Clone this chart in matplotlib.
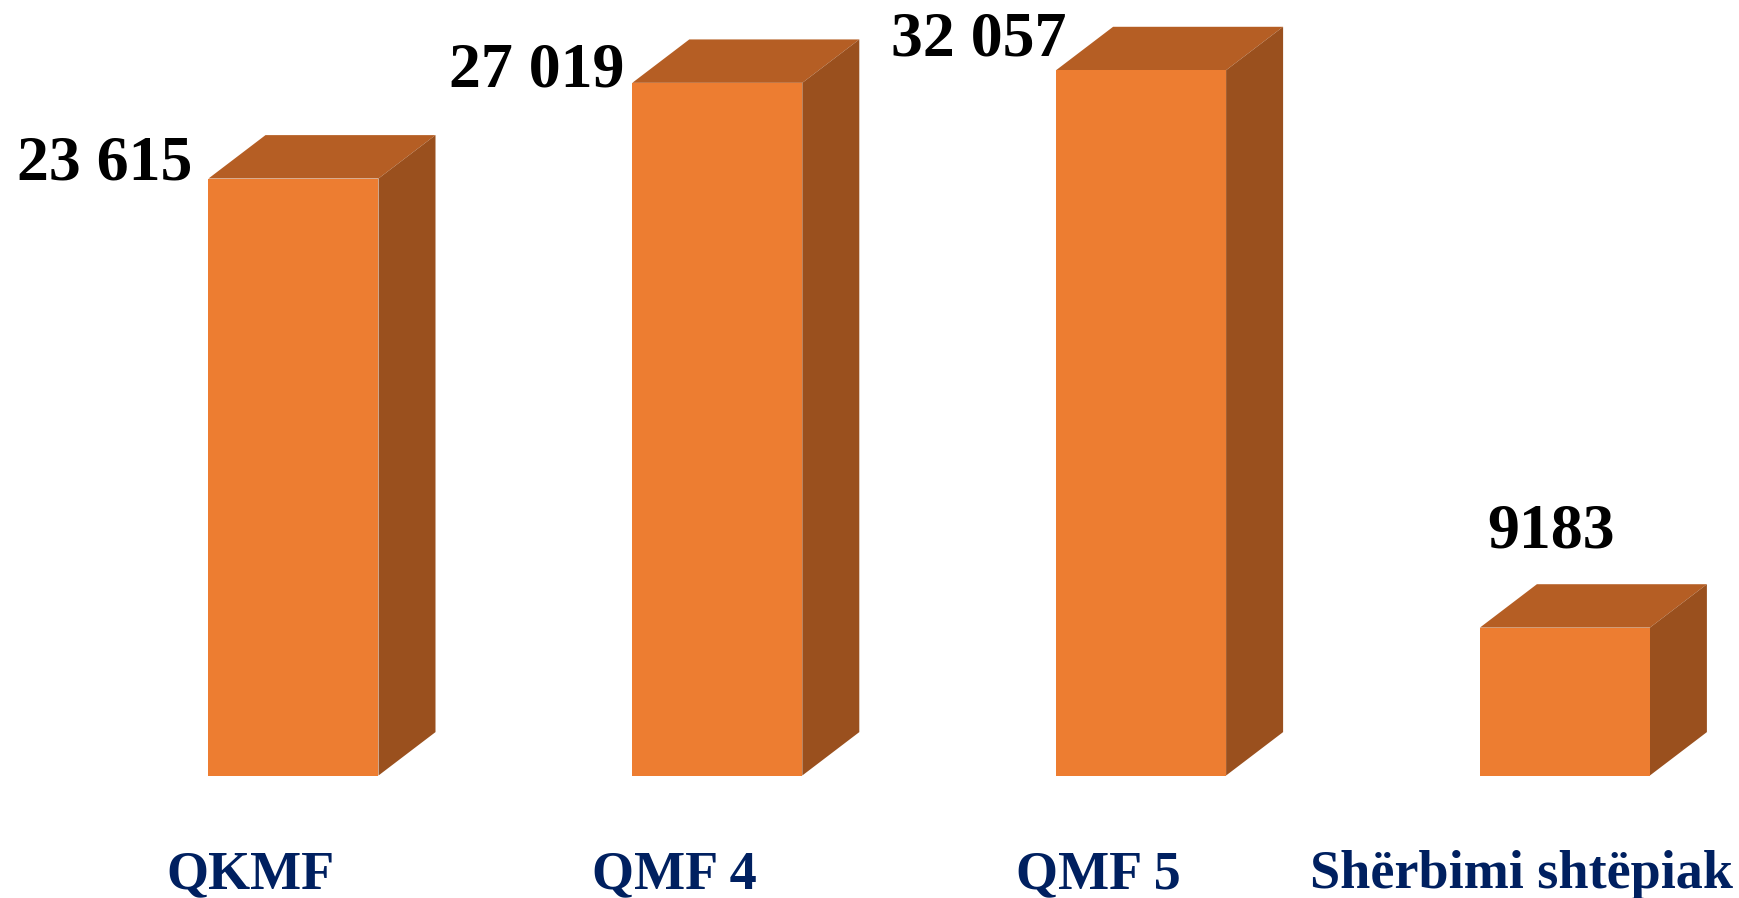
import matplotlib
matplotlib.use("Agg")
import matplotlib.pyplot as plt
from matplotlib.patches import Polygon

# data
categories = ["QKMF", "QMF 4", "QMF 5", "Shërbimi shtëpiak"]
value_labels = ["23 615", "27 019", "32 057", "9183"]
# bar heights as drawn in the picture (the picture is not to scale for all bars)
bar_heights = [23615, 27400, 27900, 5850]

FRONT = "#ED7D31"
TOP = "#B55E24"
SIDE = "#9A501E"
NAVY = "#002060"

W, H = 1739, 898
fig = plt.figure(figsize=(W / 100, H / 100), dpi=100)
ax = fig.add_axes([0, 0, 1, 1])
ax.set_axis_off()

# pixel mapping helpers
px_per_x = 423.8
px_per_y = 0.02528
x0_px = 293.5      # centre of first bar from left
base_px = 122.5    # baseline from bottom
ax.set_xlim(-x0_px / px_per_x, (W - x0_px) / px_per_x)
ax.set_ylim(-base_px / px_per_y, (H - base_px) / px_per_y)

width = 170 / px_per_x
dx = 57 / px_per_x
dy = 43.4 / px_per_y

xs = list(range(len(categories)))
ax.bar(xs, bar_heights, width=width, color=FRONT, zorder=3)
for x, h in zip(xs, bar_heights):
    l, r = x - width / 2, x + width / 2
    top = Polygon([(l, h), (r, h), (r + dx, h + dy), (l + dx, h + dy)],
                  closed=True, facecolor=TOP, edgecolor="none", zorder=2)
    side = Polygon([(r, 0), (r + dx, dy), (r + dx, h + dy), (r, h)],
                   closed=True, facecolor=SIDE, edgecolor="none", zorder=2)
    ax.add_patch(top)
    ax.add_patch(side)

# value labels (manual placement like the original)
offsets = [(-16, -1, "right"), (-8, -4, "right"), (10, 15, "right"), (71, 80, "center")]
for x, h, txt, (ox, oy, ha) in zip(xs, bar_heights, value_labels, offsets):
    ax.annotate(txt, (x - width / 2, h), xytext=(ox, oy), textcoords="offset pixels",
                ha=ha, va="baseline", fontsize=46, fontweight="bold",
                family="Liberation Serif", color="black", zorder=5)

# category labels
for x, c in zip(xs, categories):
    ax.text(x - 43 / px_per_x, (H - 888) / H, c, transform=ax.get_xaxis_transform(),
            ha="center", va="baseline", fontsize=39, fontweight="bold",
            family="Liberation Serif", color=NAVY)

fig.savefig("out.png", dpi=100, facecolor="white")
